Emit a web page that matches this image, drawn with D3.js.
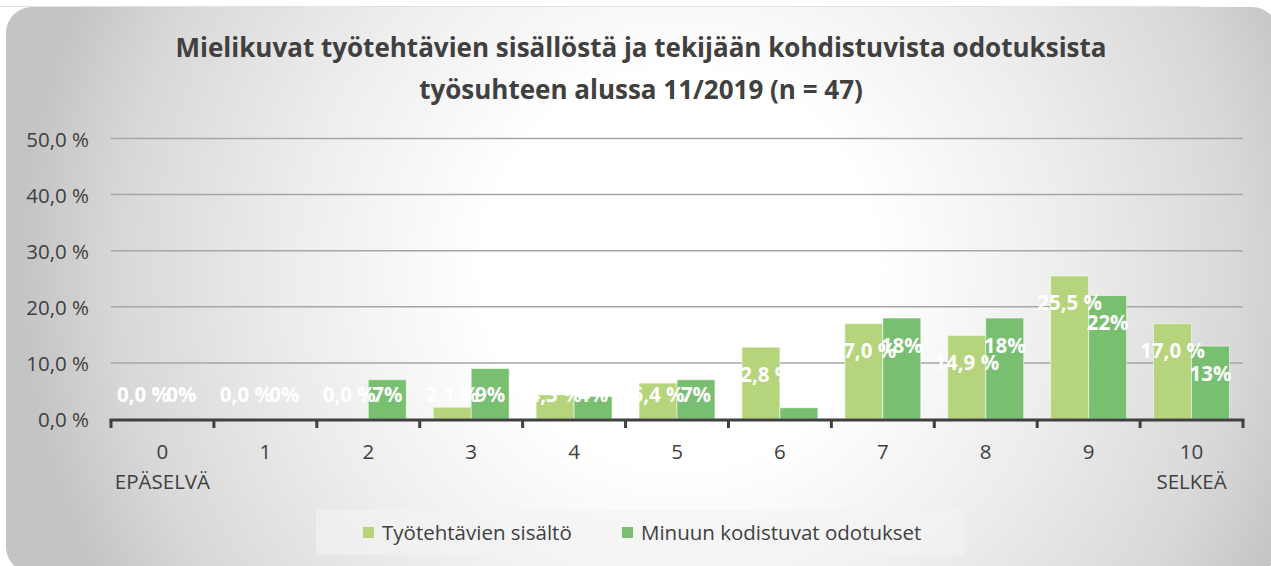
<!DOCTYPE html>
<html>
<head>
<meta charset="utf-8">
<script src="https://cdn.jsdelivr.net/npm/d3@7"></script>
<style>
  body { margin: 0; background: #ffffff; }
  svg { display: block; font-family: "Open Sans", "Noto Sans", sans-serif; }
</style>
</head>
<body>
<script>
// Chart data
const categories = ['0', '1', '2', '3', '4', '5', '6', '7', '8', '9', '10'];
const subLabels = ['EPÄSELVÄ', '', '', '', '', '', '', '', '', '', 'SELKEÄ'];
const seriesNames = ['Työtehtävien sisältö', 'Minuun kodistuvat odotukset'];
const sisalto = [0, 0, 0, 0.021, 0.043, 0.064, 0.128, 0.170, 0.149, 0.255, 0.170];
const odotukset = [0, 0, 0.07, 0.09, 0.04, 0.07, 0.02, 0.18, 0.18, 0.22, 0.13];
const yTicks = [0, 0.1, 0.2, 0.3, 0.4, 0.5];
const titleLines = [
    'Mielikuvat työtehtävien sisällöstä ja tekijään kohdistuvista odotuksista',
    'työsuhteen alussa 11/2019 (n = 47)'
];
const colors = ['#b5d47b', '#79bf71'];

class Chart {
    constructor() {
        this.width = 1271;
        this.height = 566;
        this.plot = { left: 111, right: 1243, top: 138.5, bottom: 419 };
        this.font = 20.5;
        this.init();
    }

    init() {
        this.svg = d3.select('body')
            .append('svg')
            .attr('width', this.width)
            .attr('height', this.height);

        this.fi = d3.formatLocale({ decimal: ',', thousands: ' ', grouping: [3], currency: ['', ' €'] });

        this.x0 = d3.scaleBand()
            .domain(categories)
            .range([this.plot.left, this.plot.right]);
        this.x1 = d3.scaleBand()
            .domain([0, 1])
            .range([0, this.x0.bandwidth()])
            .paddingOuter(0.355);
        this.y = d3.scaleLinear()
            .domain([0, 0.5])
            .range([this.plot.bottom, this.plot.top]);

        this.drawBackground();
        this.drawTitle();
        this.drawGrid();
        this.drawBars();
        this.drawXAxis();
        this.drawLabels();
        this.drawLegend();
    }

    drawBackground() {
        let grad = this.svg.append('defs')
            .append('radialGradient')
            .attr('id', 'bg')
            .attr('gradientUnits', 'userSpaceOnUse')
            .attr('cx', 680).attr('cy', 270).attr('r', 660);
        grad.append('stop').attr('offset', 0).attr('stop-color', '#ffffff');
        grad.append('stop').attr('offset', 0.3).attr('stop-color', '#ffffff');
        grad.append('stop').attr('offset', 0.6).attr('stop-color', '#ececec');
        grad.append('stop').attr('offset', 0.85).attr('stop-color', '#d8d8d8');
        grad.append('stop').attr('offset', 1).attr('stop-color', '#c4c4c4');

        this.svg.append('line')
            .attr('x1', 0).attr('x2', 1200)
            .attr('y1', 6.5).attr('y2', 6.5)
            .attr('stroke', '#e2e2e2');

        this.svg.append('rect')
            .attr('x', 6).attr('y', 7)
            .attr('width', 1272).attr('height', 566)
            .attr('rx', 26)
            .attr('fill', 'url(#bg)');
    }

    drawTitle() {
        this.svg.append('g')
            .selectAll('text')
            .data(titleLines)
            .join('text')
            .attr('x', 641)
            .attr('y', (d, i) => 57 + i * 42)
            .attr('text-anchor', 'middle')
            .attr('font-size', 26)
            .attr('font-weight', 'bold')
            .attr('fill', '#404040')
            .text(d => d);
    }

    drawGrid() {
        let g = this.svg.append('g');
        g.selectAll('line')
            .data(yTicks.filter(d => d > 0))
            .join('line')
            .attr('x1', this.plot.left)
            .attr('x2', this.plot.right)
            .attr('y1', d => this.y(d))
            .attr('y2', d => this.y(d))
            .attr('stroke', '#a6a6a6')
            .attr('stroke-width', 1.5);

        g.selectAll('text')
            .data(yTicks)
            .join('text')
            .attr('x', 89)
            .attr('y', d => this.y(d) + 8)
            .attr('text-anchor', 'end')
            .attr('font-size', this.font)
            .attr('fill', '#404040')
            .text(d => this.fi.format('.1f')(d * 100) + ' %');
    }

    drawBars() {
        let groups = this.svg.append('g')
            .selectAll('g')
            .data(categories)
            .join('g')
            .attr('transform', d => `translate(${this.x0(d)},0)`);

        groups.selectAll('rect')
            .data((d, i) => [sisalto[i], odotukset[i]])
            .join('rect')
            .attr('x', (d, j) => this.x1(j))
            .attr('width', this.x1.bandwidth())
            .attr('y', d => this.y(d))
            .attr('height', d => this.plot.bottom - this.y(d))
            .attr('fill', (d, j) => colors[j])
            .attr('stroke', 'rgba(255,255,255,0.55)')
            .attr('stroke-width', d => d > 0 ? 1 : 0);
    }

    drawXAxis() {
        let g = this.svg.append('g');
        let bounds = categories.map(c => this.x0(c)).concat([this.plot.right]);

        g.append('line')
            .attr('x1', this.plot.left - 1.5)
            .attr('x2', this.plot.right + 1.5)
            .attr('y1', 420).attr('y2', 420)
            .attr('stroke', '#404040')
            .attr('stroke-width', 3);

        g.selectAll('.tick')
            .data(bounds)
            .join('line')
            .attr('class', 'tick')
            .attr('x1', d => d).attr('x2', d => d)
            .attr('y1', 420).attr('y2', 428)
            .attr('stroke', '#404040')
            .attr('stroke-width', 3);

        let half = this.x0.bandwidth() / 2;
        g.selectAll('.cat')
            .data(categories)
            .join('text')
            .attr('class', 'cat')
            .attr('x', d => this.x0(d) + half)
            .attr('y', 459)
            .attr('text-anchor', 'middle')
            .attr('font-size', this.font)
            .attr('fill', '#404040')
            .text(d => d);

        g.selectAll('.sub')
            .data(categories)
            .join('text')
            .attr('class', 'sub')
            .attr('x', d => this.x0(d) + half)
            .attr('y', 489)
            .attr('text-anchor', 'middle')
            .attr('font-size', this.font)
            .attr('fill', '#404040')
            .text((d, i) => subLabels[i]);
    }

    // Data labels, white bold, near the top of each bar
    drawLabels() {
        let g = this.svg.append('g');
        let labelY = v => Math.min(this.y(v) + 27, 394) + 7.5;

        categories.forEach((c, i) => {
            let vals = [sisalto[i], odotukset[i]];
            let texts = [this.fi.format('.1f')(sisalto[i] * 100) + ' %', Math.round(odotukset[i] * 100) + '%'];
            vals.forEach((v, j) => {
                g.append('text')
                    .attr('x', this.x0(c) + this.x1(j) + this.x1.bandwidth() / 2)
                    .attr('y', labelY(v))
                    .attr('text-anchor', 'middle')
                    .attr('font-size', this.font)
                    .attr('font-weight', 'bold')
                    .attr('fill', '#ffffff')
                    .text(texts[j]);
            });
        });
    }

    drawLegend() {
        let g = this.svg.append('g');
        g.append('rect')
            .attr('x', 316).attr('y', 510)
            .attr('width', 648).attr('height', 45)
            .attr('fill', '#f4f4f4')
            .attr('opacity', 0.6);

        let xs = [363, 622];
        seriesNames.forEach((name, j) => {
            g.append('rect')
                .attr('x', xs[j]).attr('y', 527)
                .attr('width', 11).attr('height', 11)
                .attr('fill', colors[j]);
            g.append('text')
                .attr('x', xs[j] + 19)
                .attr('y', 540)
                .attr('font-size', this.font)
                .attr('fill', '#404040')
                .text(name);
        });
    }
}

let chart = new Chart();
</script>
</body>
</html>
